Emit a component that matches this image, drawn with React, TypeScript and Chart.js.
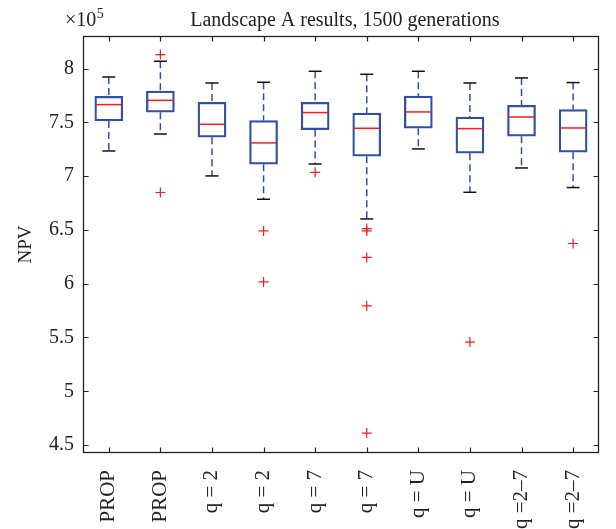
import { useEffect, useRef } from 'react';
import { Chart, registerables } from 'chart.js';

Chart.register(...registerables);

// ---- data (values in units of 10^5) ----
const categories = ['PROP', 'PROP', 'q = 2', 'q = 2', 'q = 7', 'q = 7', 'q = U', 'q = U', 'q =2–7', 'q =2–7'];
const whiskerLow = [7.234, 7.392, 7.002, 6.785, 7.113, 6.602, 7.253, 6.85, 7.076, 6.894];
const quartile1 = [7.513, 7.594, 7.362, 7.111, 7.433, 7.185, 7.445, 7.213, 7.371, 7.222];
const medians = [7.665, 7.705, 7.482, 7.309, 7.591, 7.445, 7.597, 7.442, 7.55, 7.448];
const quartile3 = [7.743, 7.792, 7.687, 7.517, 7.687, 7.587, 7.745, 7.55, 7.659, 7.619];
const whiskerHigh = [7.922, 8.068, 7.866, 7.873, 7.975, 7.947, 7.975, 7.866, 7.913, 7.87];
const outliers: number[][] = [
  [],
  [8.13, 6.848],
  [],
  [6.491, 6.017],
  [7.036],
  [6.513, 6.491, 6.244, 5.793, 4.611],
  [],
  [5.457],
  [],
  [6.374],
];
const yTickValues = [4.5, 5, 5.5, 6, 6.5, 7, 7.5, 8];
const yMin = 4.426;
const yMax = 8.303;
const titleText = 'Landscape A results, 1500 generations';
const yLabel = 'NPV';
const exponentBase = '×10';
const exponentPower = '5';

const FONT = '"Liberation Serif", "Times New Roman", serif';
const BLUE = '#2f4fa8';
const RED = '#ff1a1a';
const INK = '#222222';

export default function App() {
  const ref = useRef<HTMLCanvasElement>(null);

  useEffect(() => {
    document.body.style.margin = '0';
    const canvas = ref.current;
    if (!canvas) return;

    const xs = categories.map((_, i) => i + 1);

    const whiskerData: { x: number; y: number | null }[] = [];
    xs.forEach((x, i) => {
      whiskerData.push(
        { x, y: whiskerHigh[i] },
        { x, y: quartile3[i] },
        { x, y: null },
        { x, y: quartile1[i] },
        { x, y: whiskerLow[i] },
        { x, y: null }
      );
    });
    const capData: { x: number; y: number }[] = [];
    xs.forEach((x, i) => {
      capData.push({ x, y: whiskerHigh[i] }, { x, y: whiskerLow[i] });
    });
    const outlierData: { x: number; y: number }[] = [];
    xs.forEach((x, i) => outliers[i].forEach((v) => outlierData.push({ x, y: v })));

    const framePlugin = {
      id: 'matlabFrame',
      afterDraw(chart: any) {
        const { ctx, chartArea: a, scales } = chart;
        ctx.save();
        const L = Math.round(a.left) + 0.5;
        const R = Math.round(a.right) - 0.5;
        const T = Math.round(a.top) + 0.5;
        const B = Math.round(a.bottom) - 0.5;
        ctx.strokeStyle = INK;
        ctx.lineWidth = 1.3;
        ctx.strokeRect(L, T, R - L, B - T);
        ctx.lineWidth = 1.2;
        const len = 5;
        ctx.beginPath();
        scales.x.ticks.forEach((t: any) => {
          const px = Math.round(scales.x.getPixelForValue(t.value)) + 0.5;
          ctx.moveTo(px, B);
          ctx.lineTo(px, B - len);
          ctx.moveTo(px, T);
          ctx.lineTo(px, T + len);
        });
        scales.y.ticks.forEach((t: any) => {
          const py = Math.round(scales.y.getPixelForValue(t.value)) + 0.5;
          ctx.moveTo(L, py);
          ctx.lineTo(L + len, py);
          ctx.moveTo(R, py);
          ctx.lineTo(R - len, py);
        });
        ctx.stroke();

        ctx.fillStyle = INK;
        ctx.textBaseline = 'alphabetic';
        ctx.font = `20px ${FONT}`;
        ctx.textAlign = 'center';
        ctx.fillText(titleText, (a.left + a.right) / 2 + 4, 26);

        ctx.textAlign = 'left';
        ctx.font = `20px ${FONT}`;
        ctx.fillText(exponentBase, 65, 26);
        const w = ctx.measureText(exponentBase).width;
        ctx.font = `14px ${FONT}`;
        ctx.fillText(exponentPower, 65 + w + 0.5, 18);
        ctx.restore();
      },
    };

    const chart = new Chart(canvas, {
      type: 'bar',
      data: {
        datasets: [
          {
            type: 'line',
            data: whiskerData as any,
            borderColor: BLUE,
            borderWidth: 1.5,
            borderDash: [7, 4],
            pointRadius: 0,
            spanGaps: false,
            fill: false,
            order: 4,
          } as any,
          {
            type: 'bar',
            data: xs.map((x, i) => ({ x, y: [quartile1[i], quartile3[i]] })) as any,
            backgroundColor: 'rgba(255,255,255,0)',
            borderColor: BLUE,
            borderWidth: 1.6,
            borderSkipped: false,
            barThickness: 28,
            grouped: false,
            order: 3,
          } as any,
          {
            type: 'scatter',
            data: capData,
            pointStyle: 'line',
            pointRadius: 6.5,
            borderColor: '#111',
            borderWidth: 1.5,
            showLine: false,
            order: 2,
          } as any,
          {
            type: 'scatter',
            data: xs.map((x, i) => ({ x, y: medians[i] })),
            pointStyle: 'line',
            pointRadius: 12.5,
            borderColor: RED,
            borderWidth: 1.5,
            showLine: false,
            order: 1,
          } as any,
          {
            type: 'scatter',
            data: outlierData,
            pointStyle: 'cross',
            pointRadius: 5,
            borderColor: RED,
            borderWidth: 1.2,
            showLine: false,
            order: 0,
          } as any,
        ],
      },
      options: {
        responsive: false,
        animation: false,
        devicePixelRatio: 1,
        events: [],
        layout: { padding: { top: 36, right: 6, left: 0, bottom: 0 } },
        plugins: {
          legend: { display: false },
          tooltip: { enabled: false },
          title: { display: false },
        },
        scales: {
          x: {
            type: 'linear',
            offset: false,
            min: 0.5,
            max: 10.5,
            afterBuildTicks: (s: any) => {
              s.ticks = xs.map((v) => ({ value: v }));
            },
            afterFit: (s: any) => {
              s.height = 76;
            },
            grid: { display: false, drawTicks: false, offset: false },
            border: { display: false },
            ticks: {
              autoSkip: false,
              minRotation: 90,
              maxRotation: 90,
              padding: 17,
              color: INK,
              font: { size: 21, family: FONT },
              callback: (v: any) => categories[Math.round(Number(v)) - 1] ?? '',
            },
          },
          y: {
            type: 'linear',
            min: yMin,
            max: yMax,
            afterBuildTicks: (s: any) => {
              s.ticks = yTickValues.map((v) => ({ value: v }));
            },
            afterFit: (s: any) => {
              s.width = 83;
            },
            grid: { display: false, drawTicks: false },
            border: { display: false },
            ticks: {
              padding: 9,
              color: INK,
              font: { size: 20, family: FONT },
              callback: (v: any) => String(Number(v)),
            },
            title: {
              display: true,
              text: yLabel,
              color: INK,
              font: { size: 19, family: FONT },
              padding: { top: 15, bottom: 0 },
            },
          },
        },
      } as any,
      plugins: [framePlugin],
    });

    return () => chart.destroy();
  }, []);

  return (
    <div style={{ width: 616, height: 529 }}>
      <canvas ref={ref} width={616} height={529} style={{ display: 'block', width: 616, height: 529 }} />
    </div>
  );
}
